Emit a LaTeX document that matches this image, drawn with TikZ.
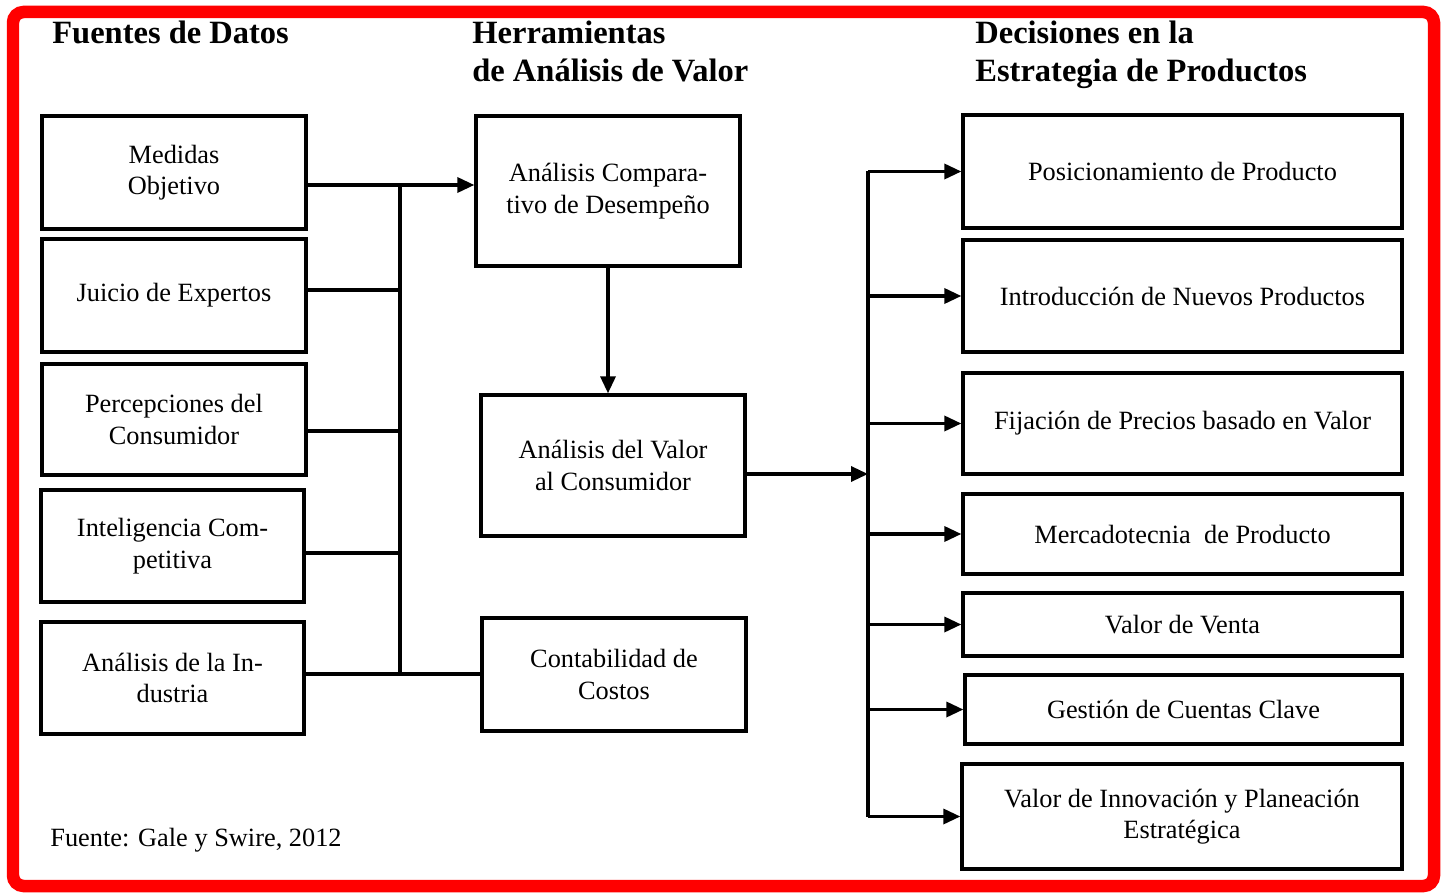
\documentclass[tikz,border=0pt]{standalone}
\usepackage{fontspec}
\setmainfont{Liberation Serif}
\usetikzlibrary{arrows.meta}

\tikzset{
  caja/.style={draw, line width=1.9pt, align=center, inner sep=2pt,
    font=\fontsize{15pt}{18pt}\selectfont},
  titulo/.style={anchor=north west, align=left, inner sep=0pt,
    font=\fontsize{18.5pt}{21.6pt}\selectfont\bfseries},
  linea/.style={line width=1.9pt},
  flecha/.style={line width=1.9pt, -{Triangle[length=0.34cm,width=0.3cm]}}
}

\begin{document}
\begin{tikzpicture}[x=0.02cm, y=-0.02cm]
    \useasboundingbox (0,0) rectangle (1444,895);
    \draw[red, line width=0.25cm, rounded corners=6] (13,12) rectangle (1434,886);

    % titulos
    \node[titulo] (t1) at (52,21) {Fuentes de Datos};
    \node[titulo] (t2) at (472,21) {Herramientas\\de Análisis de Valor};
    \node[titulo] (t3) at (975,21) {Decisiones en la\\Estrategia de Productos};

    % fuentes de datos
    \node[caja, minimum width=5.28cm, minimum height=2.26cm] (med) at (174,172.5) {Medidas\\Objetivo};
    \node[caja, minimum width=5.28cm, minimum height=2.26cm] (jui) at (174,295.5) {Juicio de Expertos};
    \node[caja, minimum width=5.28cm, minimum height=2.22cm] (per) at (174,419.5) {Percepciones del\\Consumidor};
    \node[caja, minimum width=5.26cm, minimum height=2.24cm] (intel) at (172.5,546) {Inteligencia Com-\\petitiva};
    \node[caja, minimum width=5.26cm, minimum height=2.24cm] (ind) at (172.5,678) {Análisis de la In-\\dustria};

    % herramientas
    \node[caja, minimum width=5.28cm, minimum height=3cm] (comp) at (608,191) {Análisis Compara-\\tivo de Desempeño};
    \node[caja, minimum width=5.28cm, minimum height=2.82cm] (valor) at (613,465.5) {Análisis del Valor\\al Consumidor};
    \node[caja, minimum width=5.28cm, minimum height=2.26cm] (cont) at (614,674.5) {Contabilidad de\\Costos};

    % decisiones
    \node[caja, minimum width=8.78cm, minimum height=2.26cm] (pos) at (1182.5,171.5) {Posicionamiento de Producto};
    \node[caja, minimum width=8.78cm, minimum height=2.24cm] (intro) at (1182.5,296) {Introducción de Nuevos Productos};
    \node[caja, minimum width=8.78cm, minimum height=2.02cm] (fij) at (1182.5,423.5) {Fijación de Precios basado en Valor};
    \node[caja, minimum width=8.78cm, minimum height=1.6cm] (merc) at (1182.5,534) {Mercadotecnia\ \ de Producto};
    \node[caja, minimum width=8.78cm, minimum height=1.26cm] (venta) at (1182.5,624.5) {Valor de Venta};
    \node[caja, minimum width=8.74cm, minimum height=1.38cm] (gest) at (1183.5,709.5) {Gestión de Cuentas Clave};
    \node[caja, minimum width=8.8cm, minimum height=2.1cm] (innov) at (1182,816.5) {Valor de Innovación y Planeación\\Estratégica};

    \node[anchor=west, inner sep=0pt, font=\fontsize{15pt}{18pt}\selectfont] (fuente) at (50,840) {Fuente: Gale y Swire, 2012};

    % colector izquierdo
    \coordinate (j1) at (400,185);
    \coordinate (j2) at (400,290);
    \coordinate (j3) at (400,431);
    \coordinate (j4) at (400,553);
    \coordinate (j5) at (400,674);
    \draw[linea] (j1) -- (j5);
    \draw[linea] (med.east |- j1) -- (j1);
    \draw[flecha] (j1) -- (comp.west |- j1);
    \draw[linea] (jui.east |- j2) -- (j2);
    \draw[linea] (per.east |- j3) -- (j3);
    \draw[linea] (intel.east |- j4) -- (j4);
    \draw[linea] (ind.east |- j5) -- (cont.west |- j5);

    \draw[flecha] (comp.south) -- (comp.south |- valor.north);

    % colector derecho
    \coordinate (rtop) at (868,170);
    \coordinate (rb) at (868,474);
    \draw[flecha] (valor.east |- rb) -- (rb);
    \draw[linea] (rtop |- pos.west) -- (rtop |- innov.west);
    \foreach \b in {pos, intro, fij, merc, venta, gest, innov}
        \draw[flecha] (rtop |- \b.west) -- (\b.west);
\end{tikzpicture}
\end{document}
